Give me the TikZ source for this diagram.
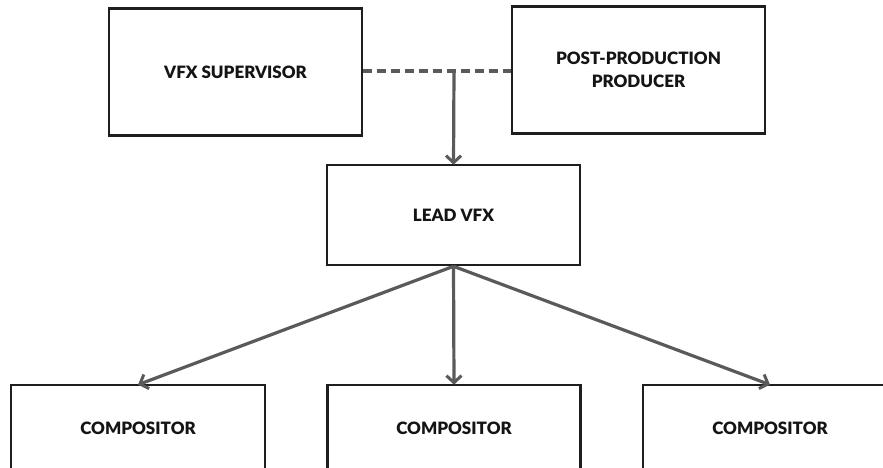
\documentclass[tikz,border=0pt]{standalone}
\usepackage{fontspec}
\setmainfont{Lato}[BoldFont={* Black}]
\usetikzlibrary{arrows.meta}
\definecolor{boxline}{HTML}{1E1E1E}
\definecolor{linkgray}{HTML}{5A5A5A}
\definecolor{labeltext}{HTML}{141414}
\begin{document}
\begin{tikzpicture}[x=1pt,y=-1pt,
  role/.style={draw=boxline, line width=2.6pt, fill=white,
    minimum width=253pt, inner sep=0pt, align=center,
    font=\fontsize{17}{23.5}\selectfont\bfseries, text=labeltext},
  link/.style={draw=linkgray, line width=3.2pt},
  arrowlink/.style={link, -{Straight Barb[length=7pt,width=15pt,line width=3pt]}}]
  \useasboundingbox (0,0) rectangle (883,468);
  % management row
  \node[role, minimum height=127pt] (sup) at (235.5,72) {VFX SUPERVISOR};
  \node[role, minimum height=127pt] (pp) at (638.5,70) {POST-PRODUCTION\\PRODUCER};
  % lead
  \node[role, minimum height=100pt] (lead) at (453.5,215) {LEAD VFX};
  % compositors
  \node[role, minimum width=254pt, minimum height=86pt] (c1) at (138,428) {COMPOSITOR};
  \node[role, minimum height=86pt] (c2) at (454,428) {COMPOSITOR};
  \node[role, minimum width=254pt, minimum height=86pt] (c3) at (770,428) {COMPOSITOR};
  % connectors
  \coordinate (j) at (454,71);
  \draw[link, dash pattern=on 9pt off 5pt] (sup.east |- j) -- (pp.west |- j);
  \draw[arrowlink] (j) -- ([yshift=-1pt]lead.north);
  \coordinate (fork) at (lead.south);
  \draw[arrowlink] (fork) -- ([yshift=-1pt]c1.north);
  \draw[arrowlink] (fork) -- ([yshift=-1pt]c2.north);
  \draw[arrowlink] (fork) -- ([yshift=-1pt]c3.north);
\end{tikzpicture}
\end{document}
